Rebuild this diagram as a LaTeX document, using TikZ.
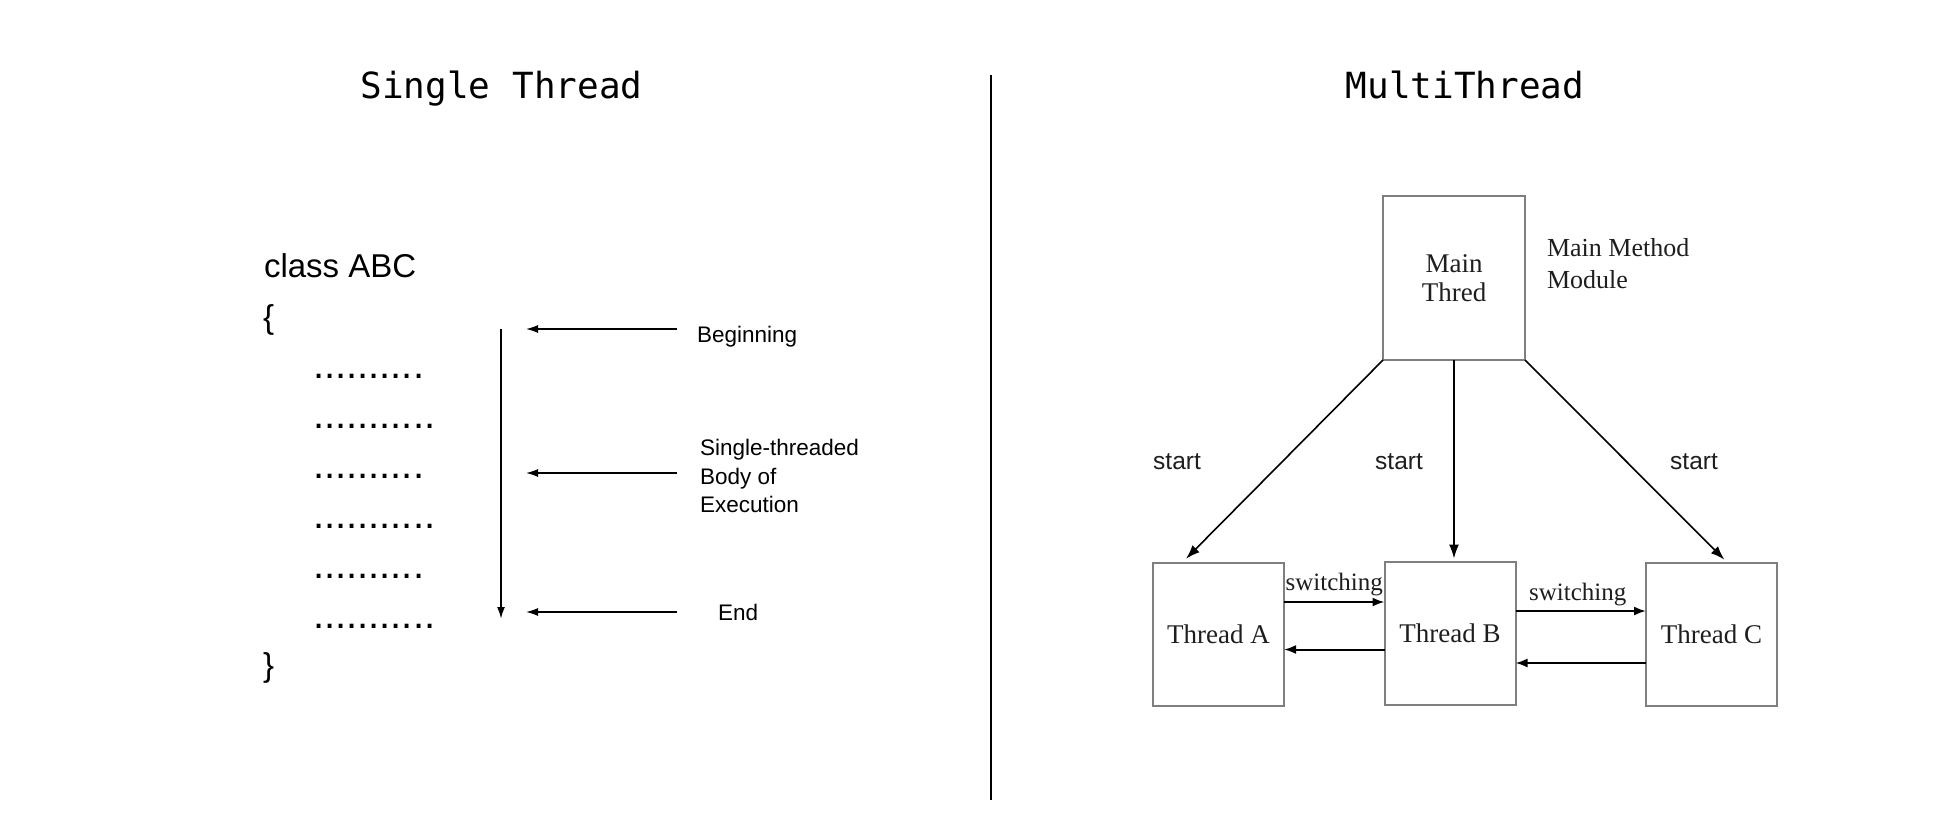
\documentclass[tikz,border=0pt]{standalone}
\usepackage{fontspec}
\setmainfont{Liberation Serif}
\newfontfamily\arialf{Liberation Sans}
\newfontfamily\monof{DejaVu Sans Mono}
\usetikzlibrary{arrows.meta,calc}
\definecolor{boxgray}{HTML}{7F7F7F}
\definecolor{inkdark}{HTML}{1E1E1E}
\begin{document}
\begin{tikzpicture}[x=1pt,y=-1pt,
  every node/.style={inner sep=0pt,outer sep=0pt},
  titlef/.style={font=\monof\fontsize{36}{40}\selectfont,anchor=base},
  classf/.style={font=\arialf\fontsize{33}{38}\selectfont,anchor=base west},
  dotf/.style={font=\arialf\fontsize{40}{44}\selectfont,anchor=base west},
  lblf/.style={font=\arialf\fontsize{22.5}{28}\selectfont,anchor=base west},
  startf/.style={font=\arialf\fontsize{24.5}{28}\selectfont,anchor=base,text=inkdark},
  mbox/.style={draw=boxgray,line width=2pt,minimum width=142pt,minimum height=164pt,
    align=center,font=\fontsize{27}{29}\selectfont,text=inkdark},
  tbox/.style={draw=boxgray,line width=2pt,minimum width=131pt,minimum height=143pt,
    font=\fontsize{27}{30}\selectfont,text=inkdark},
  swf/.style={font=\fontsize{25}{28}\selectfont,text=inkdark,anchor=base},
  larr/.style={-{Latex[length=12pt,width=8pt]},line width=1.4pt},
  darr/.style={-{Latex[length=14pt,width=10pt]},line width=1.6pt},
  sarr/.style={-{Latex[length=12pt,width=9pt]},line width=2pt}
]
\useasboundingbox (0,0) rectangle (1959,812);
\fill[white] (0,0) rectangle (1959,812);

% titles and divider
\node[titlef] (t1) at (501.5,98) {Single Thread};
\node[titlef] (t2) at (1465,98) {MultiThread};
\coordinate (divtop) at (991,75);
\coordinate (divbot) at (991,800);
\draw[line width=2pt] (divtop) -- (divbot);

% ---------- single thread ----------
\node[classf] (cls) at (264,277) {class ABC};
\node[classf] (lb) at (263,328) {\{};
\node[classf] (rb) at (263,676) {\}};
\node[dotf] (d1) at (313,378) {..........};
\node[dotf] (d2) at (313,428) {...........};
\node[dotf] (d3) at (313,478) {..........};
\node[dotf] (d4) at (313,528) {...........};
\node[dotf] (d5) at (313,578) {..........};
\node[dotf] (d6) at (313,628) {...........};

\coordinate (vtop) at (501,329);
\coordinate (vbot) at (501,619);
\draw[larr,line width=2pt] (vtop) -- (vbot);

\coordinate (h1s) at (677,329); \coordinate (h1e) at (526,329);
\coordinate (h2s) at (677,473); \coordinate (h2e) at (526,473);
\coordinate (h3s) at (677,612); \coordinate (h3e) at (526,612);
\draw[larr] (h1s) -- (h1e);
\draw[larr] (h2s) -- (h2e);
\draw[larr] (h3s) -- (h3e);

\node[lblf] (beg) at (697,342) {Beginning};
\node[lblf] (st1) at (700,455) {Single-threaded};
\node[lblf] (st2) at (700,484) {Body of};
\node[lblf] (st3) at (700,512) {Execution};
\node[lblf] (fin) at (718,620) {End};

% ---------- multi thread ----------
\node[mbox] (main) at (1454,278) {Main\\Thred};
\node[anchor=north west,align=left,font=\fontsize{26}{32}\selectfont,text=inkdark]
  (mm) at (1547,238) {Main Method\\Module};

\node[tbox] (A) at (1218.5,634.5) {Thread A};
\node[tbox] (B) at (1450,633) {Thread B};
\node[tbox] (C) at (1711.5,634) {Thread C};

\draw[darr,shorten >=6pt] (main.south west) -- ($(A.north west)!0.22!(A.north east)$);
\draw[darr,shorten >=3pt] (main.south) -- (main.south |- B.north);
\draw[darr,shorten >=4pt] (main.south east) -- ($(C.north west)!0.62!(C.north east)$);

\node[startf] (s1) at (1177,469) {start};
\node[startf] (s2) at (1399,469) {start};
\node[startf] (s3) at (1694,469) {start};

\draw[sarr] ([yshift=32.5pt]A.east) -- ([yshift=32.5pt]A.east -| B.west)
  node[swf,midway,yshift=12pt] (sw1) {switching};
\draw[sarr] ([yshift=-16.5pt]B.west) -- ([yshift=-16.5pt]B.west -| A.east);
\draw[sarr] ([yshift=22pt]B.east) -- ([yshift=22pt]B.east -| C.west)
  node[swf,midway,yshift=11pt,xshift=-3pt] (sw2) {switching};
\draw[sarr] ([yshift=-29pt]C.west) -- ([yshift=-29pt]C.west -| B.east);
\end{tikzpicture}
\end{document}
